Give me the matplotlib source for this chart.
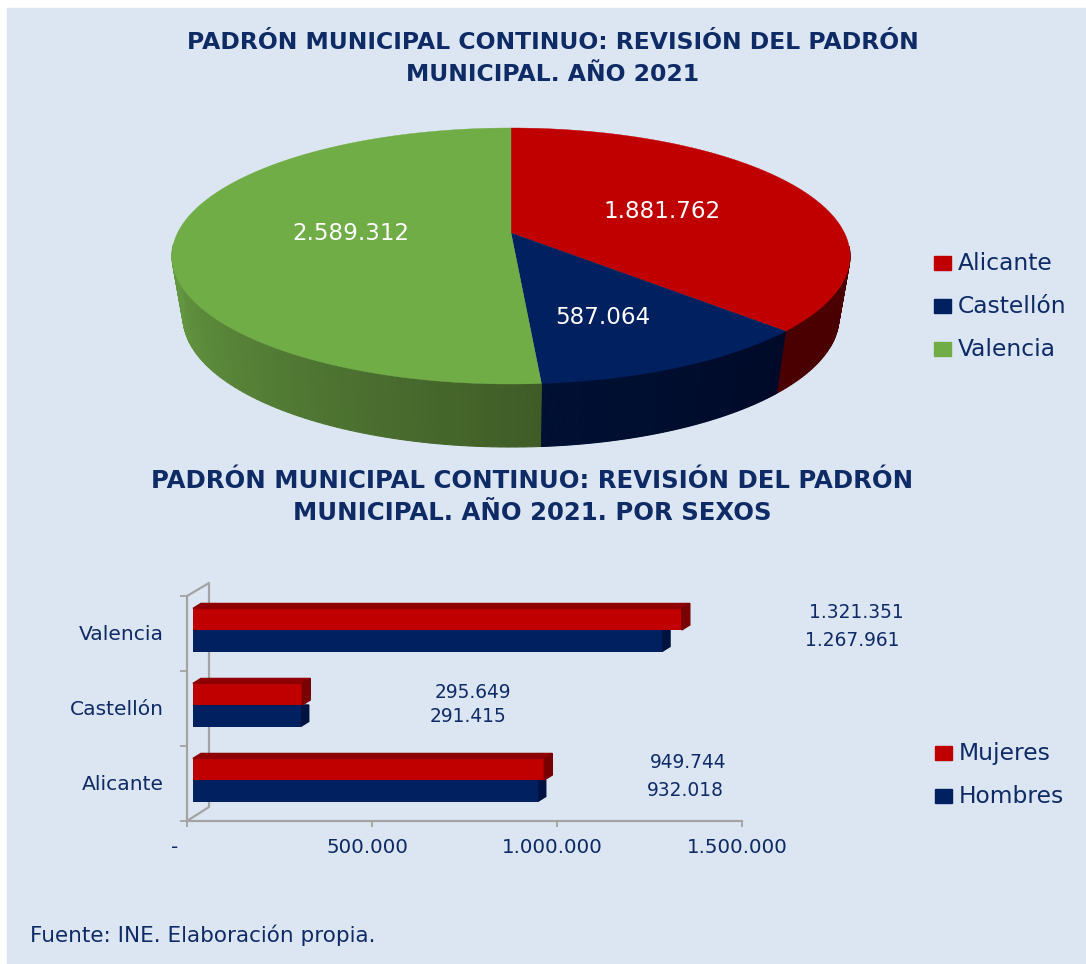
import numpy as np
import matplotlib
matplotlib.use('Agg')
import matplotlib.pyplot as plt
from matplotlib.patches import Rectangle, Polygon
from matplotlib.transforms import ScaledTranslation
from matplotlib.colors import to_rgb

# datos
provincias = ['Alicante', 'Castellón', 'Valencia']
poblacion = [1881762, 587064, 2589312]
poblacion_txt = ['1.881.762', '587.064', '2.589.312']
mujeres = [949744, 295649, 1321351]
hombres = [932018, 291415, 1267961]
mujeres_txt = ['949.744', '295.649', '1.321.351']
hombres_txt = ['932.018', '291.415', '1.267.961']
ticks_x = [0, 500000, 1000000, 1500000]
ticks_x_txt = ['-', '500.000', '1.000.000', '1.500.000']

ROJO = '#C00000'
AZUL = '#002060'
VERDE = '#70AD47'
FONDO = '#DCE6F2'
TEXTO = '#0F2B66'
GRIS = '#A3A3A3'

fig = plt.figure(figsize=(10.86, 9.64), dpi=100, facecolor='white')
ax = fig.add_axes([0, 0, 1, 1])
ax.set_xlim(0, 1086)
ax.set_ylim(964, 0)
ax.axis('off')
ax.add_patch(Rectangle((7, 8), 1079, 956, color=FONDO, zorder=0))


# proyeccion en perspectiva del disco de la tarta
def proyecta(theta, cx, cy, rx, ry, a=-0.18):
    u, v = np.sin(theta), -np.cos(theta)
    d = 1 + a * v
    return cx + rx * np.sqrt(1 - a * a) * u / d, cy + ry * (v + a) / d


def mezcla(c1, c2, t):
    return tuple((1 - t) * np.array(to_rgb(c1)) + t * np.array(to_rgb(c2)))


# tarta: lados y tapa
total = sum(poblacion)
limites = np.concatenate([[0], np.cumsum(poblacion)]) / total * 2 * np.pi
tapa = [ROJO, AZUL, VERDE]
lado_1 = ['#4A0000', '#000A28', '#3F5C27']
lado_2 = ['#4A0000', '#001033', '#639640']

for i in range(3):
    th = np.linspace(limites[i], limites[i + 1], 160)
    for j in range(len(th) - 1):
        if -np.cos(th[j]) < 0.1:  # la parte de atras no se ve
            continue
        x1, y1 = proyecta(th[j:j + 2], 511, 256, 339, 128)
        x2, y2 = proyecta(th[j:j + 2], 511, 317, 328, 130)
        t = (th[j] - limites[i]) / (limites[i + 1] - limites[i])
        if i == 2:
            color = mezcla(lado_1[i], lado_2[i], min(1, t / 0.42))
        else:
            color = mezcla(lado_1[i], lado_2[i], t)
        ax.add_patch(Polygon(np.c_[[x1[0], x1[1], x2[1], x2[0]], [y1[0], y1[1], y2[1], y2[0]]],
                             fc=color, ec=color, lw=0.8, zorder=1))

cx0, cy0 = 511, 233
for i in range(3):
    th = np.linspace(limites[i], limites[i + 1], 200)
    x, y = proyecta(th, 511, 256, 339, 128)
    ax.fill(np.r_[cx0, x], np.r_[cy0, y], color=tapa[i], lw=0.3, zorder=2)

ax.text(662, 211, poblacion_txt[0], color='white', fontsize=16.6, ha='center', va='center', zorder=3)
ax.text(603, 318, poblacion_txt[1], color='white', fontsize=16.6, ha='center', va='center', zorder=3)
ax.text(351, 234, poblacion_txt[2], color='white', fontsize=16.6, ha='center', va='center', zorder=3)

# titulos
ax.text(553, 40, 'PADRÓN MUNICIPAL CONTINUO: REVISIÓN DEL PADRÓN', weight='bold',
        color=TEXTO, fontsize=16.9, ha='center', va='center_baseline')
ax.text(553, 72, 'MUNICIPAL. AÑO 2021', weight='bold',
        color=TEXTO, fontsize=16.9, ha='center', va='center_baseline')
ax.text(532, 478, 'PADRÓN MUNICIPAL CONTINUO: REVISIÓN DEL PADRÓN', weight='bold',
        color=TEXTO, fontsize=17.6, ha='center', va='center_baseline')
ax.text(532, 510, 'MUNICIPAL. AÑO 2021. POR SEXOS', weight='bold',
        color=TEXTO, fontsize=17.6, ha='center', va='center_baseline')

# leyendas
for nombre, color, yc in zip(provincias, tapa, [263, 306, 349]):
    ax.add_patch(Rectangle((934, yc - 7), 17, 14, color=color, zorder=2))
    ax.text(958, yc - 2, nombre, color=TEXTO, fontsize=16.8, ha='left', va='center_baseline')
for nombre, color, yc in zip(['Mujeres', 'Hombres'], [ROJO, AZUL], [753, 796]):
    ax.add_patch(Rectangle((935, yc - 7), 17, 14, color=color, zorder=2))
    ax.text(959, yc - 2, nombre, color=TEXTO, fontsize=16.8, ha='left', va='center_baseline')

# pared de fondo del grafico de barras
ax.plot([187, 209, 209, 187], [596, 583, 807, 821], color=GRIS, lw=1.6, zorder=1)

# barras
ax2 = fig.add_axes([187 / 1086, 1 - 821 / 964, 555 / 1086, 225 / 964])
ax2.patch.set_alpha(0)
ax2.set_xlim(0, 1500000)
ax2.set_ylim(0, 3)
y = np.arange(3) + 0.547
alto = 0.287
base = 16000
dx = 8 / 555 * 1500000
dy = 5 / 75
ax2.barh(y + alto / 2, mujeres, height=alto, left=base, color=ROJO, zorder=3)
ax2.barh(y - alto / 2, hombres, height=alto, left=base, color=AZUL, zorder=3)
for i in range(3):
    xm = base + mujeres[i]
    xh = base + hombres[i]
    ym = y[i] + alto
    # cara superior y laterales
    ax2.add_patch(Polygon([(base, ym), (base + dx, ym + dy), (xm + dx, ym + dy), (xm, ym)], color='#8E0000', zorder=3))
    ax2.add_patch(Polygon([(xm, y[i]), (xm + dx, y[i] + dy), (xm + dx, ym + dy), (xm, ym)], color='#780000', zorder=3))
    ax2.add_patch(Polygon([(xh, y[i] - alto), (xh + dx, y[i] - alto + dy), (xh + dx, y[i]), (xh, y[i])], color='#001240', zorder=2))

ax2.set_xticks(ticks_x)
ax2.set_xticklabels(ticks_x_txt, color=TEXTO, fontsize=14.3)
ax2.set_yticks([0, 1, 2, 3])
ax2.set_yticklabels([])
ax2.set_yticks([0.5, 1.5, 2.5], minor=True)
ax2.set_yticklabels(provincias, minor=True, color=TEXTO, fontsize=14.6, va='center_baseline')
ax2.tick_params(axis='x', length=4.5, width=1.3, color=GRIS, pad=7.5)
ax2.tick_params(axis='y', which='major', length=5, width=1.3, color=GRIS)
ax2.tick_params(axis='y', which='minor', length=0, pad=17)
desplaza = ScaledTranslation(-5 / 100, 0, fig.dpi_scale_trans)
for k, lab in enumerate(ax2.get_xticklabels()):
    extra = ScaledTranslation(-12 / 100, 0, fig.dpi_scale_trans) if k == 0 else desplaza
    lab.set_transform(lab.get_transform() + extra)
for lab in ax2.get_yticklabels(minor=True):
    lab.set_transform(lab.get_transform() + ScaledTranslation(0, 0.01, fig.dpi_scale_trans))
for lado in ['top', 'right']:
    ax2.spines[lado].set_visible(False)
for lado in ['left', 'bottom']:
    ax2.spines[lado].set_color(GRIS)
    ax2.spines[lado].set_linewidth(1.6)

# etiquetas de datos
for txt, xc, yc in zip(mujeres_txt + hombres_txt, [688, 473, 856, 685, 468, 852], [763, 692, 613, 790, 716, 640]):
    ax.text(xc, yc, txt, color=TEXTO, fontsize=13.4, ha='center', va='center', zorder=5)

ax.text(30, 933, 'Fuente: INE. Elaboración propia.', color=TEXTO, fontsize=15.5, ha='left', va='center_baseline')

fig.savefig('out.png', dpi=100)
